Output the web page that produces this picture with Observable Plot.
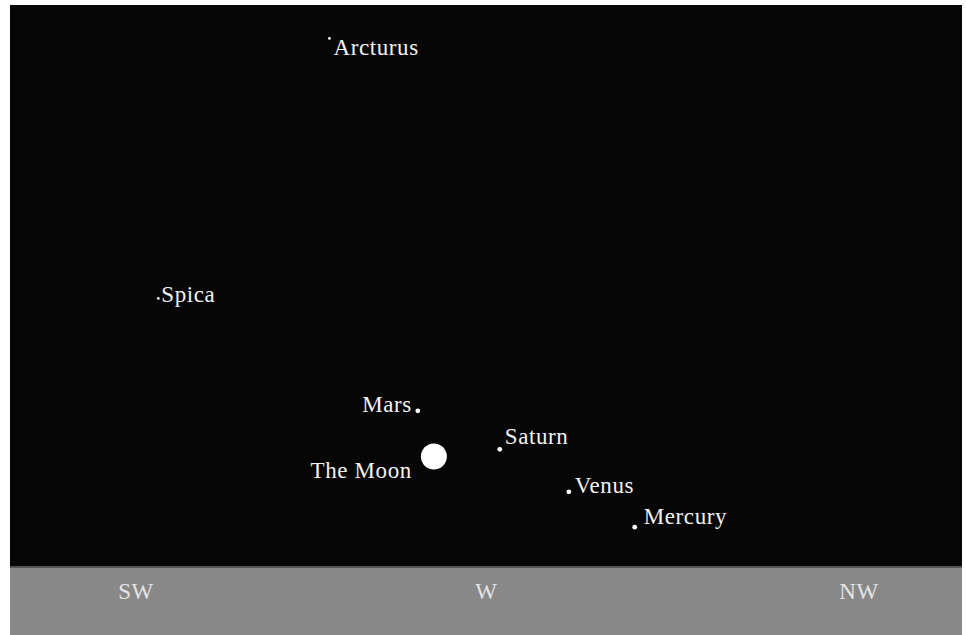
<!DOCTYPE html>
<html>
<head>
<meta charset="utf-8">
<script src="https://cdn.jsdelivr.net/npm/d3@7"></script>
<script src="https://cdn.jsdelivr.net/npm/@observablehq/plot@0.6"></script>
<style>
  html, body { margin: 0; padding: 0; background: #fff; }
  #chart svg { display: block; }
</style>
</head>
<body>
<div id="chart"></div>
<script>
// Sky objects: azimuth (degrees) and altitude (degrees)
const names    = ["Arcturus", "Spica", "Mars", "The Moon", "Saturn", "Venus", "Mercury"];
const kinds    = ["star", "star", "planet", "moon", "planet", "planet", "planet"];
const azimuth  = [249.7, 228.4, 260.7, 262.7, 270.9, 279.5, 287.7];
const altitude = [65.9, 33.5, 19.5, 13.8, 14.7, 9.4, 5.0];

// Compass tick labels on the horizon
const compassLabels = ["SW", "W", "NW"];
const compassAz     = [225, 270, 315];

const objects = names.map((n, i) => ({name: n, kind: kinds[i], az: azimuth[i], alt: altitude[i]}));
const compass = compassLabels.map((l, i) => ({label: l, az: compassAz[i]}));

// label placement (presentation only)
const labelLayout = {
  "Arcturus": {dx: 4,   dy: 9,   anchor: "start"},
  "Spica":    {dx: 3,   dy: -4,  anchor: "start"},
  "Mars":     {dx: -6,  dy: -6,  anchor: "end"},
  "The Moon": {dx: -22, dy: 14,  anchor: "end"},
  "Saturn":   {dx: 5,   dy: -13, anchor: "start"},
  "Venus":    {dx: 6,   dy: -6,  anchor: "start"},
  "Mercury":  {dx: 9,   dy: -11, anchor: "start"}
};
const compassDx = {"SW": 5, "W": -6, "NW": 5};
const radius = {star: 1.4, planet: 2.4, moon: 13};

const xDomain = [210, 328.5];
const yDomain = [-8.5, 70];

const marks = [
  // sky
  Plot.rect([{x1: xDomain[0], x2: xDomain[1], y1: 0, y2: yDomain[1]}],
    {x1: "x1", x2: "x2", y1: "y1", y2: "y2", fill: "#060606"}),
  // ground
  Plot.rect([{x1: xDomain[0], x2: xDomain[1], y1: yDomain[0], y2: 0}],
    {x1: "x1", x2: "x2", y1: "y1", y2: "y2", fill: "#888888"}),
  Plot.ruleY([0], {stroke: "#555", strokeWidth: 1.5}),
  // compass labels
  ...compass.map(c => Plot.text([c], {x: "az", y: () => -3, text: "label", fill: "#e4e4e4",
    fontSize: 23, dx: compassDx[c.label]})),
  // objects
  Plot.dot(objects, {x: "az", y: "alt", r: d => radius[d.kind], fill: "white", stroke: "none"}),
  ...objects.map(o => {
    const L = labelLayout[o.name];
    return Plot.text([o], {x: "az", y: "alt", text: "name", fill: "#f2f2f2",
      fontSize: 23, dx: L.dx, dy: L.dy, textAnchor: L.anchor});
  })
];

const chart = Plot.plot({
  width: 966,
  height: 635,
  marginLeft: 10,
  marginRight: 4,
  marginTop: 5,
  marginBottom: 0,
  x: {domain: xDomain, axis: null},
  y: {domain: yDomain, axis: null},
  r: {type: "identity"},
  style: {background: "#fff", fontFamily: "'Liberation Serif', 'DejaVu Serif', serif", letterSpacing: "0.6px"},
  marks
});
document.getElementById("chart").appendChild(chart);
</script>
</body>
</html>
